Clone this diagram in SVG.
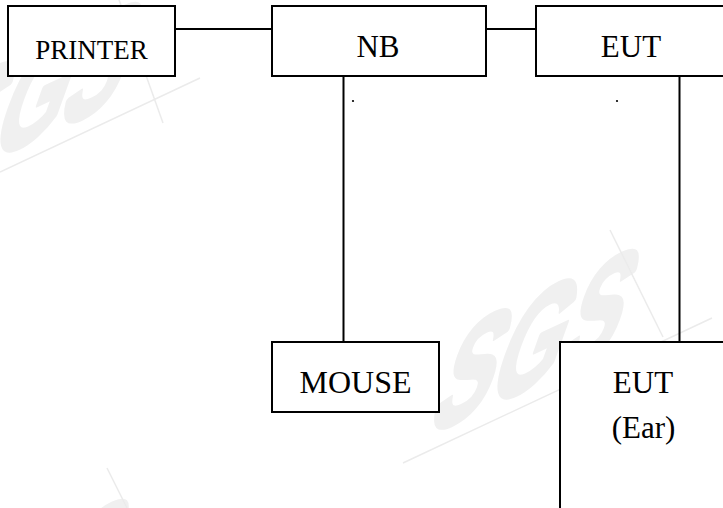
<svg xmlns="http://www.w3.org/2000/svg" width="723" height="508" viewBox="0 0 723 508">
<style>
.box{fill:#ffffff;stroke:#000000;stroke-width:2}
.wire{stroke:#000000;stroke-width:2;fill:none}
.lbl{font-family:"Liberation Serif","Times New Roman",serif;fill:#000000;text-anchor:middle}
.wm{font-family:"Liberation Sans",Arial,sans-serif;font-weight:bold;fill:#f0f0f0;stroke:#f0f0f0;stroke-width:6;stroke-linejoin:round}
.wml{stroke:#ebebeb;stroke-width:1.5;fill:none}
</style>
<defs>
<g id="sgs">
<text class="wm" x="0" y="0" font-size="165" textLength="205" lengthAdjust="spacingAndGlyphs" transform="matrix(0.906,-0.423,-0.34,0.94,0,0)">SGS</text>
</g>
</defs>
<g id="watermark">
<use href="#sgs" transform="translate(425,436)"/>
<line class="wml" x1="403" y1="463" x2="712" y2="318"/>
<line class="wml" x1="610" y1="230" x2="663" y2="337"/>
<use href="#sgs" transform="translate(-72,189)"/>
<line class="wml" x1="0" y1="172" x2="200" y2="78"/>
<line class="wml" x1="113" y1="-17" x2="163" y2="123"/>
<use href="#sgs" transform="translate(-85,686)"/>
<line class="wml" x1="107" y1="468" x2="127" y2="508"/>
</g>
<g id="connectors">
<line class="wire" x1="176" y1="29" x2="271" y2="29"/>
<line class="wire" x1="487" y1="29" x2="535" y2="29"/>
<line class="wire" x1="343.5" y1="77" x2="343.5" y2="341"/>
<line class="wire" x1="679.5" y1="77" x2="679.5" y2="341"/>
</g>
<g id="printer">
<rect class="box" x="8" y="6" width="167" height="70"/>
<text class="lbl" x="91.5" y="59" font-size="27">PRINTER</text>
</g>
<g id="nb">
<rect class="box" x="272" y="6" width="214" height="70"/>
<text class="lbl" x="378" y="57" font-size="31">NB</text>
</g>
<g id="eut">
<rect class="box" x="536" y="6" width="200" height="70"/>
<text class="lbl" x="631" y="57" font-size="31">EUT</text>
</g>
<g id="mouse">
<rect class="box" x="272" y="342" width="167" height="70"/>
<text class="lbl" x="355.5" y="393" font-size="32">MOUSE</text>
</g>
<g id="eut-ear">
<rect class="box" x="560" y="342" width="200" height="200"/>
<text class="lbl" x="643" y="393" font-size="31">EUT</text>
<text class="lbl" x="643.5" y="438" font-size="31">(Ear)</text>
</g>
<g id="dots">
<circle cx="353" cy="101" r="1.1" fill="#000000"/>
<circle cx="617" cy="101" r="1.1" fill="#000000"/>
</g>
</svg>
